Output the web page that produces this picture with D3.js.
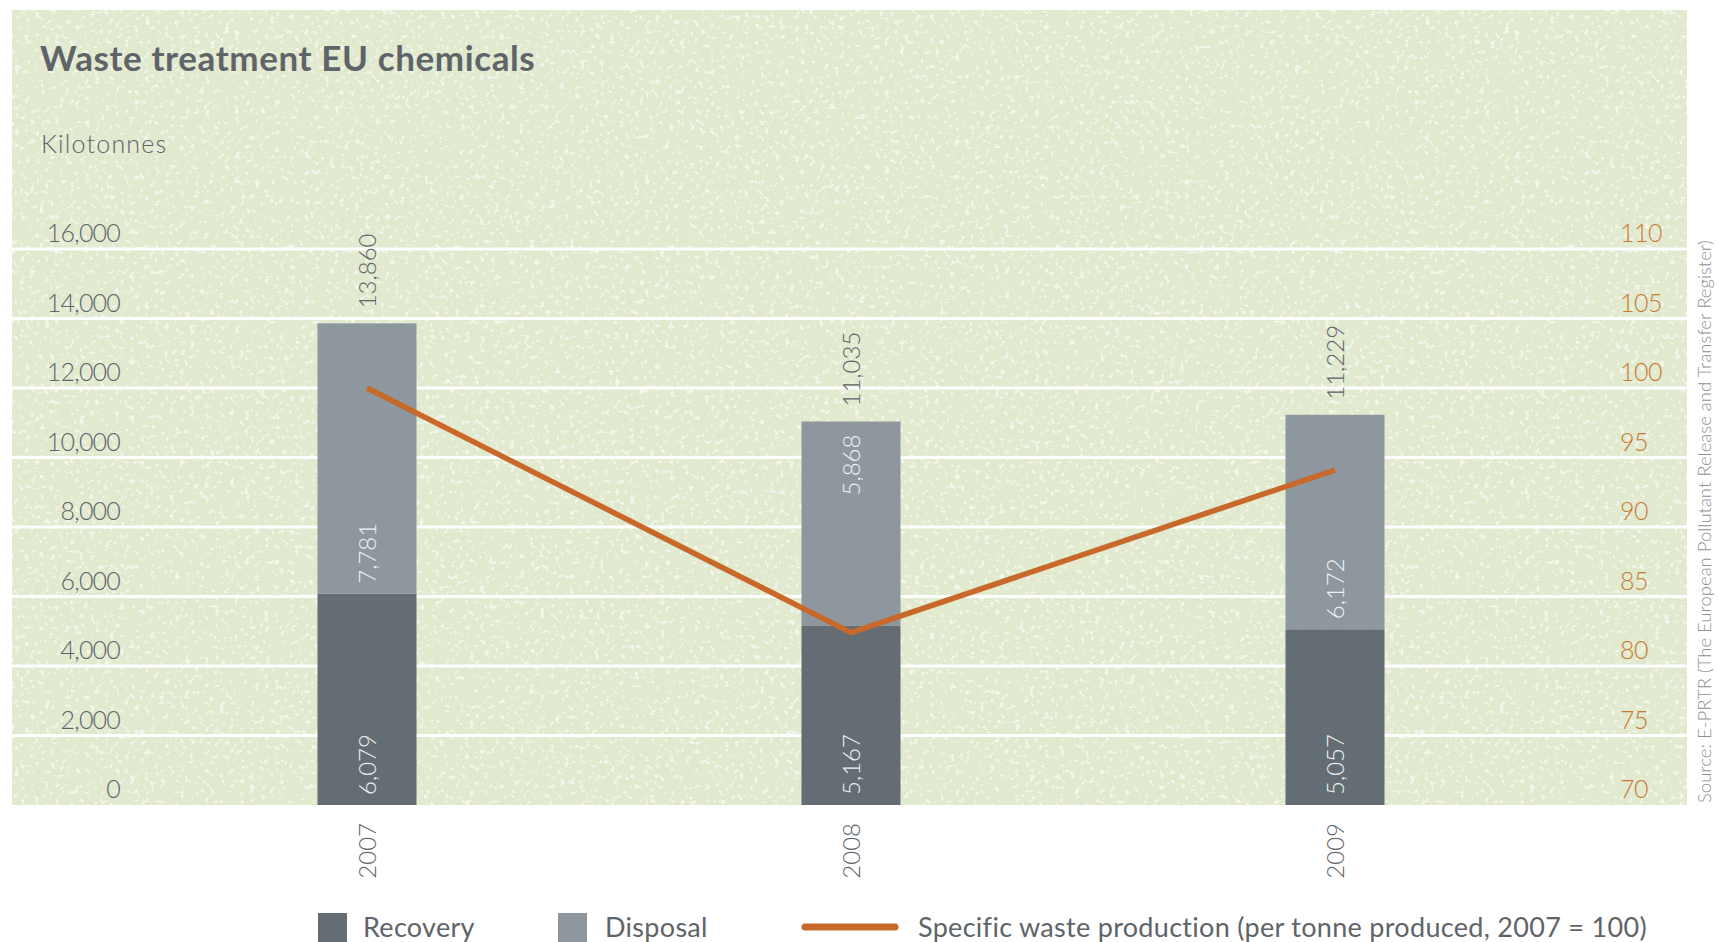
<!DOCTYPE html>
<html>
<head>
<meta charset="utf-8">
<title>Waste treatment EU chemicals</title>
<script src="https://cdn.jsdelivr.net/npm/d3@7"></script>
<style>
  html, body { margin: 0; padding: 0; background: #ffffff; }
  svg { display: block; font-family: Lato, "Open Sans", "Noto Sans", sans-serif; }
</style>
</head>
<body>
<svg id="chart" width="1718" height="942"></svg>
<script>
// Kilotonnes of waste by treatment route, EU chemical industry
const years = ["2007", "2008", "2009"];
const recovery = [6079, 5167, 5057];
const disposal = [7781, 5868, 6172];
const totals = [13860, 11035, 11229];
// Specific waste production index (per tonne produced, 2007 = 100)
const specific = [100, 82.4, 94.1];

const leftTicks = [0, 2000, 4000, 6000, 8000, 10000, 12000, 14000, 16000];
const rightTicks = [70, 75, 80, 85, 90, 95, 100, 105, 110];

const seriesNames = ["Recovery", "Disposal"];
const lineName = "Specific waste production (per tonne produced, 2007 = 100)";
const titleText = "Waste treatment EU chemicals";
const unitText = "Kilotonnes";
const sourceText = "Source: E-PRTR (The European Pollutant Release and Transfer Register)";

const colors = {
  panel: "#e1e9cf",
  grid: "#ffffff",
  recovery: "#646d73",
  disposal: "#8e979e",
  line: "#c8692b",
  rightTick: "#c77a33",
  text: "#5e6468",
  inside: "#eef1f2",
  source: "#8c9194"
};

const svg = d3.select("#chart");

const panel = { left: 12, right: 1687, top: 10, bottom: 805 };
const plotTop = 249;
const barW = 99;

const x = d3.scalePoint().domain(years).range([367, 1335]);
const y = d3.scaleLinear().domain([0, 16000]).range([panel.bottom, plotTop]);
const y2 = d3.scaleLinear().domain([70, 110]).range([panel.bottom, plotTop]);

// texture for the panel: pale specks and scratches
const defs = svg.append("defs");
const f = defs.append("filter").attr("id", "specks")
  .attr("x", 0).attr("y", 0).attr("width", "100%").attr("height", "100%");
f.append("feTurbulence").attr("type", "fractalNoise")
  .attr("baseFrequency", "0.2").attr("numOctaves", 3).attr("seed", 7).attr("result", "noise");
f.append("feColorMatrix").attr("in", "noise").attr("type", "matrix")
  .attr("values", "0 0 0 0 1  0 0 0 0 1  0 0 0 0 1  10 0 0 0 -6.0").attr("result", "dots");
f.append("feComposite").attr("in", "dots").attr("in2", "SourceGraphic").attr("operator", "in");

svg.append("rect")
  .attr("x", panel.left).attr("y", panel.top)
  .attr("width", panel.right - panel.left).attr("height", panel.bottom - panel.top)
  .attr("fill", colors.panel);

svg.append("rect")
  .attr("x", panel.left).attr("y", panel.top)
  .attr("width", panel.right - panel.left).attr("height", panel.bottom - panel.top)
  .attr("fill", "#ffffff")
  .attr("opacity", 0.6)
  .attr("filter", "url(#specks)");

// title and unit
svg.append("text")
  .attr("x", 40).attr("y", 71)
  .attr("font-size", 35).attr("font-weight", 700)
  .attr("letter-spacing", "0.6")
  .attr("fill", colors.text)
  .text(titleText);

svg.append("text")
  .attr("x", 41).attr("y", 153)
  .attr("font-size", 25)
  .attr("font-weight", 300)
  .attr("letter-spacing", "1.2")
  .attr("fill", colors.text)
  .text(unitText);

// horizontal grid
svg.append("g").selectAll("line")
  .data(leftTicks.filter(d => d > 0))
  .join("line")
  .attr("x1", panel.left).attr("x2", panel.right)
  .attr("y1", d => y(d)).attr("y2", d => y(d))
  .attr("stroke", colors.grid).attr("stroke-width", 3);

// left axis (labels sit just above their gridline)
const leftAxis = d3.axisLeft(y).tickValues(leftTicks).tickFormat(d3.format(",")).tickSize(0).tickPadding(0);
const gL = svg.append("g").attr("transform", "translate(120,0)").call(leftAxis);
gL.select(".domain").remove();
gL.selectAll("text")
  .attr("font-family", "Lato, sans-serif")
  .attr("font-size", 25)
  .attr("font-weight", 300)
  .attr("fill", colors.text)
  .attr("dy", "-0.3em")
  .attr("letter-spacing", "-0.8");

// right axis
const rightAxis = d3.axisRight(y2).tickValues(rightTicks).tickSize(0).tickPadding(0);
const gR = svg.append("g").attr("transform", "translate(1620,0)").call(rightAxis);
gR.select(".domain").remove();
gR.selectAll("text")
  .attr("font-family", "Lato, sans-serif")
  .attr("font-size", 25)
  .attr("font-weight", 300)
  .attr("fill", colors.rightTick)
  .attr("dy", "-0.3em")
  .attr("letter-spacing", "-0.5");

// stacked bars
const rows = years.map((yr, i) => ({ year: yr, Recovery: recovery[i], Disposal: disposal[i] }));
const stacked = d3.stack().keys(seriesNames)(rows);
const fillOf = { Recovery: colors.recovery, Disposal: colors.disposal };

const gBars = svg.append("g");
stacked.forEach(layer => {
  gBars.selectAll(null)
    .data(layer)
    .join("rect")
    .attr("x", d => x(d.data.year) - barW / 2)
    .attr("y", d => y(d[1]))
    .attr("width", barW)
    .attr("height", d => y(d[0]) - y(d[1]))
    .attr("fill", fillOf[layer.key]);
});

// the index line
const pts = years.map((yr, i) => [x(yr), y2(specific[i])]);
const lineAt = px => {
  for (let i = 0; i < pts.length - 1; i++) {
    const [x0, y0] = pts[i], [x1, y1] = pts[i + 1];
    if (px >= x0 && px <= x1) return y0 + (y1 - y0) * (px - x0) / (x1 - x0);
  }
  return null;
};

svg.append("path")
  .datum(years.map((yr, i) => ({ year: yr, v: specific[i] })))
  .attr("d", d3.line().x(d => x(d.year)).y(d => y2(d.v)))
  .attr("fill", "none")
  .attr("stroke", colors.line)
  .attr("stroke-width", 5.5)
  .attr("stroke-linejoin", "round");

// value labels inside the segments, rotated
const fmt = d3.format(",");
const gLab = svg.append("g")
  .attr("font-family", "Lato, sans-serif")
  .attr("font-size", 24)
  .attr("font-weight", 300);

stacked.forEach(layer => {
  layer.forEach(d => {
    const cx = x(d.data.year);
    const bottom = y(d[0]), top = y(d[1]);
    // move the label to the top of the segment if the line runs through its lower end
    const edges = [cx - barW / 2, cx + barW / 2].map(lineAt).filter(v => v !== null);
    const clash = edges.some(v => v > bottom - 80 && v < bottom);
    const ly = clash ? top + 13 : bottom - 10;
    gLab.append("text")
      .attr("transform", `translate(${cx},${ly}) rotate(-90)`)
      .attr("text-anchor", clash ? "end" : "start")
      .attr("dy", "0.36em")
      .attr("fill", colors.inside)
      .text(fmt(d.data[layer.key]));
  });
});

// totals above bars
years.forEach((yr, i) => {
  gLab.append("text")
    .attr("transform", `translate(${x(yr)},${y(totals[i]) - 15}) rotate(-90)`)
    .attr("text-anchor", "start")
    .attr("dy", "0.36em")
    .attr("fill", colors.text)
    .text(fmt(totals[i]));
});

// year labels below the panel
const xAxis = d3.axisBottom(x).tickSize(0).tickPadding(0);
const gX = svg.append("g").attr("transform", `translate(0,${panel.bottom + 18})`).call(xAxis);
gX.select(".domain").remove();
gX.selectAll("text")
  .attr("font-family", "Lato, sans-serif")
  .attr("font-size", 24)
  .attr("font-weight", 300)
  .attr("fill", colors.text)
  .attr("text-anchor", "end")
  .attr("y", 0)
  .attr("dy", "0.36em")
  .attr("transform", "rotate(-90)");

// source note along the right edge
svg.append("text")
  .attr("transform", `translate(1704,${panel.bottom - 2}) rotate(-90)`)
  .attr("text-anchor", "start")
  .attr("dy", "0.36em")
  .attr("font-size", 18.5)
  .attr("font-weight", 300)
  .attr("fill", colors.source)
  .text(sourceText);

// legend
const gLeg = svg.append("g").attr("font-size", 27).attr("fill", colors.text);
const legendBoxes = [
  { name: seriesNames[0], color: colors.recovery, x: 318, tx: 363 },
  { name: seriesNames[1], color: colors.disposal, x: 558, tx: 605 }
];
legendBoxes.forEach(b => {
  gLeg.append("rect").attr("x", b.x).attr("y", 913).attr("width", 29).attr("height", 29).attr("fill", b.color);
  gLeg.append("text").attr("x", b.tx).attr("y", 937).attr("letter-spacing", "0.3").text(b.name);
});
gLeg.append("line")
  .attr("x1", 805).attr("x2", 895).attr("y1", 927).attr("y2", 927)
  .attr("stroke", colors.line).attr("stroke-width", 7).attr("stroke-linecap", "round");
gLeg.append("text").attr("x", 918).attr("y", 937).attr("letter-spacing", "0.3").text(lineName);
</script>
</body>
</html>
